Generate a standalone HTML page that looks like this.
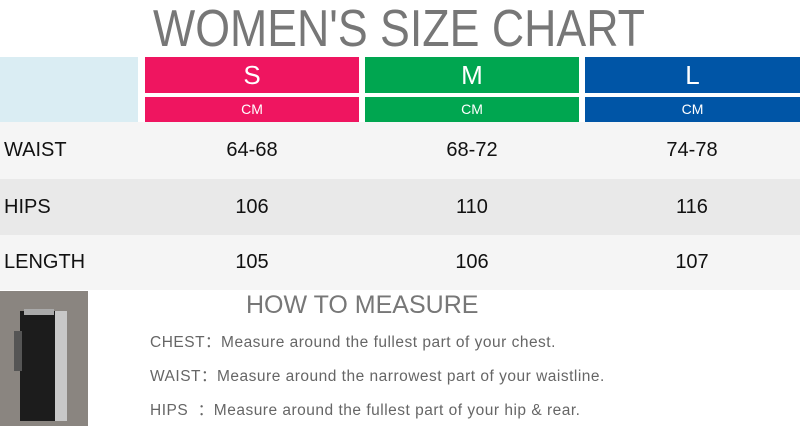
<!DOCTYPE html>
<html><head><style>
body{margin:0;width:800px;height:426px;background:#fff;position:relative;overflow:hidden;font-family:"Liberation Sans",sans-serif}
div{position:absolute;box-sizing:border-box}
.h{color:#fff;text-align:center}
.r{left:0;width:800px;font-size:20px;color:#111}
.c{position:absolute;text-align:center;width:214px}
.m{font-size:15.5px;color:#666;left:150px;letter-spacing:0.5px;white-space:nowrap}
</style></head><body>
<svg style="position:absolute;left:0;top:0" width="800" height="56"><text x="153" y="46" textLength="492" lengthAdjust="spacingAndGlyphs" font-family="Liberation Sans Narrow, Liberation Sans, sans-serif" font-size="52" fill="#777">WOMEN'S SIZE CHART</text></svg>
<div style="left:0;top:57px;width:138px;height:65px;background:#daedf3"></div>
<div class="h" style="left:145px;top:57px;width:214px;height:36px;background:#ef1560;font-size:26px;line-height:36px">S</div>
<div class="h" style="left:145px;top:97px;width:214px;height:25px;background:#ef1560;font-size:14px;line-height:25px">CM</div>
<div class="h" style="left:365px;top:57px;width:214px;height:36px;background:#00a650;font-size:26px;line-height:36px">M</div>
<div class="h" style="left:365px;top:97px;width:214px;height:25px;background:#00a650;font-size:14px;line-height:25px">CM</div>
<div class="h" style="left:585px;top:57px;width:215px;height:36px;background:#0055a6;font-size:26px;line-height:36px">L</div>
<div class="h" style="left:585px;top:97px;width:215px;height:25px;background:#0055a6;font-size:14px;line-height:25px">CM</div>
<div class="r" style="top:122px;height:57px;background:#f5f5f5;line-height:57px"><span style="position:absolute;left:4px">WAIST</span><span class="c" style="left:145px">64-68</span><span class="c" style="left:365px">68-72</span><span class="c" style="left:585px">74-78</span></div>
<div class="r" style="top:179px;height:56px;background:#e9e9e9;line-height:56px"><span style="position:absolute;left:4px">HIPS</span><span class="c" style="left:145px">106</span><span class="c" style="left:365px">110</span><span class="c" style="left:585px">116</span></div>
<div class="r" style="top:235px;height:55px;background:#f5f5f5;line-height:55px"><span style="position:absolute;left:4px">LENGTH</span><span class="c" style="left:145px">105</span><span class="c" style="left:365px">106</span><span class="c" style="left:585px">107</span></div>
<div style="left:0;top:291px;width:88px;height:135px;background:#8a8580">
 <div style="left:20px;top:20px;width:38px;height:110px;background:#1c1c1c"></div>
 <div style="left:55px;top:20px;width:12px;height:110px;background:#c8c8c8"></div>
 <div style="left:24px;top:18px;width:30px;height:6px;background:#aaa"></div>
 <div style="left:14px;top:40px;width:8px;height:40px;background:#555"></div>
</div>
<div style="left:246px;top:291px;font-size:25px;color:#777">HOW TO MEASURE</div>
<div class="m" style="top:330px">CHEST：Measure around the fullest part of your chest.</div>
<div class="m" style="top:364px">WAIST：Measure around the narrowest part of your waistline.</div>
<div class="m" style="top:398px">HIPS &nbsp;：Measure around the fullest part of your hip &amp; rear.</div>
</body></html>
